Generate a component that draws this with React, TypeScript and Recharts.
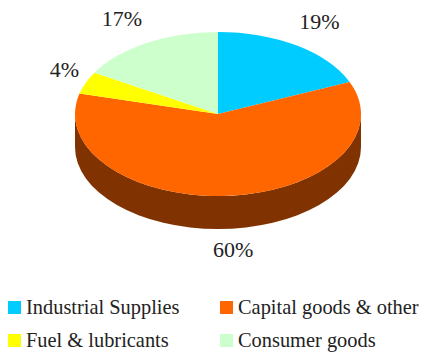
import { PieChart, Pie, Cell, Legend } from 'recharts';

const categories = ['Industrial Supplies', 'Capital goods & other', 'Fuel & lubricants', 'Consumer goods'];
const shares = [18.6, 60.4, 4.4, 16.6];
const colors = ['#00CCFF', '#FF6600', '#FFFF00', '#CCFFCC'];
const wallColors = ['#006680', '#803300', '#808000', '#668066'];

const data = categories.map((name, i) => ({ name, value: shares[i] }));

// pie is tilted: circle gets squashed to an ellipse, with a wall below it
const TILT = 82 / 143;
const DEPTH = 33;
const RAD = Math.PI / 180;
const FONT = '"Liberation Serif", serif';

// label distance from the centre, per slice
const LABEL_RX = [184, 200, 166, 193];
const LABEL_RY = [111, 136, 117, 110];

const pt = (cx: number, cy: number, r: number, a: number) => [
  cx + r * Math.cos(a * RAD),
  cy - r * TILT * Math.sin(a * RAD),
];

function TopSlice({ cx, cy, outerRadius: r, startAngle, endAngle, fill }: any) {
  const [x1, y1] = pt(cx, cy, r, startAngle);
  const [x2, y2] = pt(cx, cy, r, endAngle);
  const large = Math.abs(startAngle - endAngle) > 180 ? 1 : 0;
  const d = `M${cx},${cy}L${x1},${y1}A${r},${r * TILT} 0 ${large} 1 ${x2},${y2}Z`;
  return <path d={d} fill={fill} stroke="none" />;
}

function WallSlice({ cx, cy, outerRadius: r, startAngle, endAngle, fill }: any) {
  // only the front half of the rim can be seen
  const a1 = Math.min(startAngle, 0);
  const a2 = Math.max(endAngle, -180);
  if (a1 <= a2) return null;
  const [x1, y1] = pt(cx, cy, r, a1);
  const [x2, y2] = pt(cx, cy, r, a2);
  const ry = r * TILT;
  const d = `M${x1},${y1}A${r},${ry} 0 0 1 ${x2},${y2}L${x2},${y2 + DEPTH}A${r},${ry} 0 0 0 ${x1},${y1 + DEPTH}Z`;
  return <path d={d} fill={fill} stroke="none" />;
}

function renderLabel({ cx, cy, midAngle, index, value }: any) {
  const x = cx + LABEL_RX[index] * Math.cos(midAngle * RAD);
  const y = cy - LABEL_RY[index] * Math.sin(midAngle * RAD);
  return (
    <text x={x} y={y} textAnchor="middle" dominantBaseline="central" fontFamily={FONT} fontSize={22} fill="#222">
      {Math.round(value)}%
    </text>
  );
}

function LegendGrid() {
  return (
    <div style={{ display: 'grid', gridTemplateColumns: '212px 203px', rowGap: 11, fontFamily: FONT, fontSize: 20.4, color: '#222', lineHeight: '22px' }}>
      {categories.map((c, i) => (
        <div key={c} style={{ display: 'flex', alignItems: 'center' }}>
          <span style={{ width: 13, height: 13, background: colors[i], marginRight: 5, flexShrink: 0 }} />
          <span style={{ whiteSpace: 'nowrap' }}>{c}</span>
        </div>
      ))}
    </div>
  );
}

export default function App() {
  return (
    <div style={{ position: 'absolute', left: 0, top: 0 }}>
      <PieChart width={423} height={353} margin={{ top: 0, right: 0, bottom: 0, left: 0 }}>
        <Pie data={data} dataKey="value" nameKey="name" cx={218} cy={114} outerRadius={143}
          startAngle={90} endAngle={-270} stroke="none" legendType="none" label={false}
          shape={WallSlice} isAnimationActive={false}>
          {data.map((d, i) => <Cell key={d.name} fill={wallColors[i]} />)}
        </Pie>
        <Pie data={data} dataKey="value" nameKey="name" cx={218} cy={114} outerRadius={143}
          startAngle={90} endAngle={-270} stroke="none" label={renderLabel} labelLine={false}
          shape={TopSlice} isAnimationActive={false}>
          {data.map((d, i) => <Cell key={d.name} fill={colors[i]} />)}
        </Pie>
        <Legend content={<LegendGrid />} wrapperStyle={{ left: 8, top: 296, width: 415, bottom: 'auto' }} />
      </PieChart>
    </div>
  );
}
